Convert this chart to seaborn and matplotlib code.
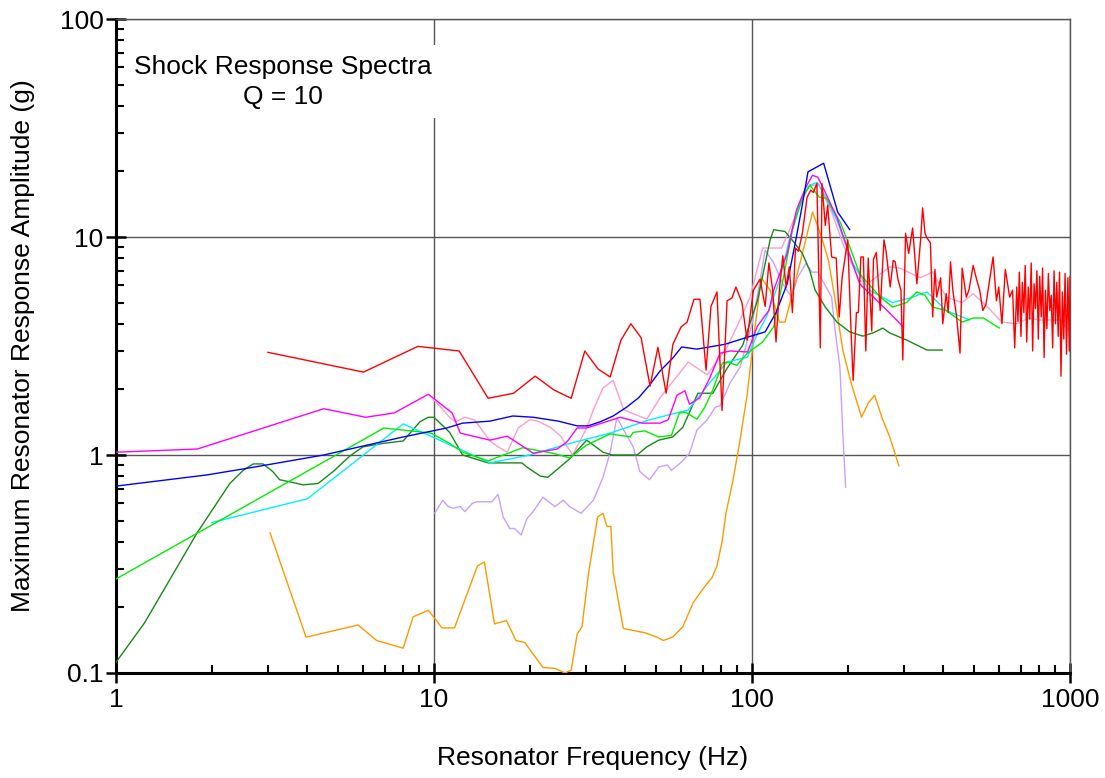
import matplotlib
matplotlib.use("Agg")
import matplotlib.pyplot as plt
import seaborn as sns
from matplotlib.ticker import LogLocator, NullFormatter, FixedLocator, FixedFormatter

# ---------------- data ----------------
red_f = [3.0, 6.0, 8.9, 12.0, 14.8, 17.8, 20.8, 23.8, 27.0, 29.8,
         32.8, 35.8, 38.7, 41.6, 44.8, 47.8, 50.6, 53.7, 56.4, 59.8,
         62.5, 65.7, 68.6, 71.7, 74.3, 77.6, 80.5, 83.5, 86.5, 89.0,
         93.0, 96.5, 101, 106, 110, 113, 116, 119, 122, 125,
         128, 131, 134, 137, 140, 144, 149, 153, 156, 160,
         164, 166, 170, 173, 178, 184, 188, 192, 200, 205,
         208, 213, 216, 220, 224, 228, 232, 238, 241, 246,
         253, 260, 264, 272, 278, 282, 288, 294, 298, 304,
         311, 320, 330, 339, 344, 350, 355, 364, 370, 376,
         381, 392, 398, 408, 414, 421, 428, 440, 451, 458,
         472, 481, 496, 509, 520, 532, 544, 559, 573, 587,
         597, 611, 626, 646, 660, 670, 680]
red_g = [2.96, 2.4, 3.15, 3.0, 1.82, 1.92, 2.3, 1.99, 1.82, 3.0,
         2.48, 2.28, 3.36, 4.0, 3.45, 2.07, 3.12, 1.92, 3.22, 3.86,
         4.07, 5.18, 5.18, 2.45, 4.8, 5.6, 1.6, 5.1, 5.25, 5.9,
         5.0, 3.36, 5.7, 6.4, 4.8, 7.6, 5.8, 3.3, 5.8, 8.2,
         5.9, 7.3, 4.5, 8.9, 8.6, 10.4, 15.2, 16.4, 16.0, 17.6,
         3.1, 17.6, 11.3, 14.0, 8.1, 8.0, 4.3, 6.5, 9.7, 3.6,
         2.2, 4.5, 4.5, 8.1, 8.1, 3.0, 8.0, 3.7, 7.9, 8.5,
         4.6, 9.7, 8.6, 5.9, 7.8, 7.7, 6.35, 5.7, 2.73, 10.4,
         8.4, 11.0, 6.1, 9.7, 13.6, 10.4, 9.9, 9.4, 4.3, 7.1,
         5.3, 6.5, 4.0, 5.5, 4.5, 7.7, 5.7, 4.3, 2.93, 7.2,
         5.3, 5.7, 7.4, 6.35, 5.7, 4.6, 4.9, 6.35, 8.1, 5.1,
         5.9, 4.0, 7.1, 5.3, 5.7, 3.1, 5.9]
red_tail_f = [686, 693, 701, 708, 716, 723, 731, 739, 747, 755,
              763, 771, 779, 787, 795, 803, 812, 820, 829, 837,
              846, 855, 864, 873, 882, 891, 900, 909, 918, 927,
              937, 946, 956, 965, 975, 985, 995, 1000]
red_tail_g = [4.1, 6.9, 3.5, 6.2, 4.5, 7.4, 3.3, 5.9, 4.2, 7.6,
              3.0, 6.1, 4.7, 7.0, 3.4, 6.6, 4.3, 7.2, 2.8, 5.7,
              3.8, 6.8, 4.6, 5.4, 3.1, 7.0, 4.0, 6.2, 3.5, 6.9,
              2.3, 5.6, 3.4, 6.8, 2.9, 6.5, 3.0, 6.6]

mag_f = [1.0, 1.8, 4.5, 6.1, 7.5, 9.6, 11.4, 12.1, 15.0, 17.0,
         20.5, 24.4, 26.2, 28.2, 30.2, 38.5, 45.1, 51.4, 54.5, 58.1,
         61.5, 63.6, 68.5, 73.6, 79.3, 85.3, 96.9, 104, 113, 117,
         129, 138, 147, 155, 161, 167, 185, 207, 218, 271, 299]
mag_g = [1.03, 1.065, 1.63, 1.49, 1.56, 1.90, 1.56, 1.26, 1.17, 1.22,
         1.02, 1.065, 1.15, 1.33, 1.33, 1.49, 1.40, 1.40, 1.45, 1.88,
         1.97, 1.71, 1.83, 2.25, 2.93, 3.0, 2.97, 3.9, 4.6, 5.7,
         8.4, 13.3, 16.7, 19.2, 18.8, 16.9, 12.3, 7.6, 6.1, 4.48, 3.87]

blue_f = [1.0, 1.93, 2.72, 4.5, 6.16, 8.0, 10.96, 12.3, 15.0, 17.7,
          20.5, 24.6, 28.2, 30.5, 33.3, 36.6, 40.4, 44.0, 47.6, 51.4,
          56.3, 60.1, 67.1, 82.2, 96.7, 110, 119, 129, 137, 143,
          150, 168, 186, 203]
blue_g = [0.72, 0.81, 0.88, 1.0, 1.11, 1.21, 1.33, 1.40, 1.43, 1.51,
          1.49, 1.43, 1.36, 1.36, 1.42, 1.51, 1.66, 1.83, 2.09, 2.43,
          2.78, 3.13, 3.06, 3.22, 3.47, 3.67, 4.5, 6.1, 9.5, 13.3,
          19.9, 21.8, 13.0, 10.8]

cyan_f = [2.0, 4.0, 6.0, 8.0, 15.0, 20.0, 26.7, 35.8, 47.6, 63.0,
          73.6, 83.5, 96.7, 104, 111, 122, 131, 141, 152, 160,
          166, 185, 207, 234, 277, 320, 355, 408, 484]
cyan_g = [0.49, 0.63, 1.0, 1.39, 0.92, 1.0, 1.13, 1.26, 1.45, 1.61,
          2.14, 2.67, 2.81, 3.6, 4.3, 6.3, 9.7, 14.3, 17.3, 17.8,
          16.4, 11.9, 7.6, 5.7, 5.0, 5.3, 5.6, 4.6, 4.16]

lime_f = [1.0, 6.96, 9.8, 11.2, 12.3, 14.8, 19.0, 23.6, 26.7, 30.2,
          35.8, 41.4, 42.3, 46.0, 50.9, 55.8, 59.1, 61.9, 67.1, 71.1,
          75.3, 80.7, 83.5, 89.6, 96.7, 108, 117, 125, 134, 144,
          152, 163, 171, 190, 203, 218, 253, 277, 306, 330,
          350, 370, 408, 458, 496, 534, 600]
lime_g = [0.27, 1.33, 1.26, 1.13, 1.03, 0.94, 1.08, 1.02, 0.97, 1.11,
          1.25, 1.21, 1.27, 1.29, 1.21, 1.23, 1.56, 1.57, 1.46, 1.66,
          1.99, 2.64, 2.67, 2.58, 2.93, 3.3, 3.87, 6.3, 10.8, 15.1,
          17.3, 15.2, 15.1, 11.6, 9.0, 6.8, 5.3, 4.77, 5.0, 5.6,
          5.4, 4.77, 4.6, 4.07, 4.25, 4.25, 3.82]

dkg_f = [1.0, 1.23, 1.80, 2.28, 2.51, 2.70, 2.90, 3.11, 3.27, 3.57,
         3.87, 4.32, 4.82, 5.44, 5.98, 6.9, 8.0, 9.03, 9.6, 10.0,
         11.2, 12.3, 14.8, 18.9, 19.6, 21.6, 22.8, 26.7, 30.2, 34.0,
         36.3, 43.5, 46.7, 50.9, 56.3, 60.6, 67.6, 75.3, 83.5, 93.5,
         104, 114, 117, 127, 136, 144, 152, 158, 170, 185,
         203, 223, 240, 258, 271, 306, 355, 397]
dkg_g = [0.112, 0.17, 0.44, 0.74, 0.85, 0.91, 0.91, 0.84, 0.77, 0.75,
         0.73, 0.74, 0.84, 0.99, 1.09, 1.13, 1.16, 1.42, 1.49, 1.49,
         1.27, 1.0, 0.92, 0.92, 0.88, 0.80, 0.79, 0.96, 1.17, 1.03,
         1.0, 1.0, 1.09, 1.17, 1.21, 1.34, 1.92, 1.92, 2.5, 3.19,
         5.1, 9.7, 10.8, 10.6, 9.4, 8.4, 7.0, 5.7, 4.77, 4.07,
         3.67, 3.51, 3.63, 3.82, 3.63, 3.37, 3.03, 3.03]

pink_f = [10.0, 11.2, 11.7, 12.5, 13.4, 15.0, 15.9, 17.0, 18.4, 20.0,
          21.2, 23.2, 24.9, 27.3, 30.2, 31.7, 34.0, 36.6, 39.5, 46.7,
          51.4, 63.0, 72.3, 83.5, 91.7, 98.6, 108, 124, 137, 150,
          162, 178, 195, 218, 234, 271, 292, 338, 370, 408,
          458, 496, 550, 611, 680, 742, 803, 930, 1000]
pink_g = [1.79, 1.49, 1.42, 1.49, 1.45, 1.16, 1.09, 1.03, 1.33, 1.45,
          1.43, 1.34, 1.23, 1.0, 1.33, 1.61, 2.03, 2.2, 1.61, 1.46,
          1.83, 2.67, 2.33, 3.13, 4.16, 5.3, 8.9, 8.9, 12.5, 17.0,
          17.5, 13.0, 9.0, 6.3, 6.2, 7.3, 7.2, 6.5, 6.9, 5.3,
          5.0, 5.5, 4.77, 4.07, 4.0, 4.25, 4.16, 4.16, 3.67]

lav_f = [10.05, 10.65, 11.1, 11.5, 12.1, 12.5, 13.2, 13.6, 15.2, 15.9,
         16.5, 17.3, 17.9, 18.8, 19.6, 20.5, 22.0, 24.0, 25.5, 26.7,
         29.0, 31.7, 34.0, 35.8, 37.6, 42.3, 44.4, 47.6, 50.9, 54.2,
         55.8, 60.1, 63.6, 67.1, 72.3, 76.7, 79.3, 85.3, 91.7, 100,
         106, 110, 117, 125, 133, 139, 148, 154, 161, 171,
         178, 182, 189, 193, 197]
lav_g = [0.54, 0.62, 0.58, 0.57, 0.58, 0.55, 0.60, 0.61, 0.61, 0.66,
         0.52, 0.46, 0.46, 0.43, 0.51, 0.55, 0.64, 0.58, 0.62, 0.58,
         0.54, 0.62, 0.79, 1.03, 1.48, 1.09, 0.84, 0.77, 0.88, 0.90,
         0.85, 0.93, 1.02, 1.30, 1.45, 1.66, 1.68, 2.14, 2.53, 4.0,
         6.3, 8.7, 7.6, 6.1, 5.3, 6.5, 7.6, 6.9, 6.9, 5.9,
         5.3, 3.87, 2.53, 1.26, 0.71]

org_f = [3.05, 3.96, 5.77, 6.6, 8.0, 8.6, 9.6, 10.6, 11.6, 13.7,
         14.4, 15.5, 16.9, 18.1, 19.3, 22.0, 24.0, 25.8, 27.0, 28.2,
         29.2, 30.6, 32.7, 34.0, 35.0, 36.0, 36.6, 39.4, 46.0, 50.3,
         52.6, 56.3, 60.6, 65.3, 70.4, 75.0, 77.6, 80.5, 82.8, 87.2,
         91.7, 96.7, 101, 107, 114, 122, 127, 134, 144, 155,
         164, 174, 182, 193, 205, 221, 232, 243, 256, 271, 290]
org_g = [0.44, 0.146, 0.166, 0.141, 0.13, 0.181, 0.194, 0.161, 0.161, 0.31,
         0.323, 0.168, 0.174, 0.141, 0.138, 0.106, 0.105, 0.1, 0.103, 0.151,
         0.163, 0.285, 0.52, 0.54, 0.47, 0.47, 0.29, 0.16, 0.153, 0.146,
         0.141, 0.146, 0.163, 0.21, 0.245, 0.275, 0.31, 0.40, 0.54, 0.77,
         1.17, 1.92, 3.36, 6.5, 5.7, 4.07, 4.07, 5.5, 8.4, 13.0,
         10.4, 7.8, 5.3, 3.03, 2.14, 1.49, 1.73, 1.88, 1.49, 1.21, 0.89]

x_ticks = [1, 10, 100, 1000]
x_tick_labels = ["1", "10", "100", "1000"]
y_ticks = [0.1, 1, 10, 100]
y_tick_labels = ["0.1", "1", "10", "100"]

title_text = "Shock Response Spectra\nQ = 10"
x_label = "Resonator Frequency (Hz)"
y_label = "Maximum Resonator Response Amplitude (g)"

# ---------------- figure ----------------
sns.set_theme(style="white")
plt.rcParams["font.family"] = ["Liberation Sans", "DejaVu Sans"]

W, H = 1105, 778
fig = plt.figure(figsize=(W / 100, H / 100), dpi=100)
ax = fig.add_axes([116 / W, 1 - 673 / H, (1070 - 116) / W, (673 - 19) / H])
ax.set_xscale("log")
ax.set_yscale("log")

series = [
    (lav_f, lav_g, "#c8a0ff"),
    (pink_f, pink_g, "#ff9ccc"),
    (org_f, org_g, "#ff9900"),
    (dkg_f, dkg_g, "#168a16"),
    (cyan_f, cyan_g, "#00f0ff"),
    (lime_f, lime_g, "#00ee00"),
    (mag_f, mag_g, "#ff00ff"),
    (blue_f, blue_g, "#0000ff"),
    (red_f + red_tail_f, red_g + red_tail_g, "#ff0000"),
]
for fx, gy, col in series:
    sns.lineplot(x=fx, y=gy, color=col, linewidth=1.0, estimator=None,
                 sort=False, legend=False, ax=ax, zorder=3)

ax.set_xlim(1, 1000)
ax.set_ylim(0.1, 100)

ax.xaxis.set_major_locator(FixedLocator(x_ticks))
ax.xaxis.set_major_formatter(FixedFormatter(x_tick_labels))
ax.yaxis.set_major_locator(FixedLocator(y_ticks))
ax.yaxis.set_major_formatter(FixedFormatter(y_tick_labels))
ax.xaxis.set_minor_locator(LogLocator(base=10, subs=range(2, 10), numticks=20))
ax.yaxis.set_minor_locator(LogLocator(base=10, subs=range(2, 10), numticks=20))
ax.xaxis.set_minor_formatter(NullFormatter())
ax.yaxis.set_minor_formatter(NullFormatter())

ax.grid(which="major", color="#555555", linewidth=1.0)
ax.grid(which="minor", visible=False)
ax.set_axisbelow(True)

ax.tick_params(which="major", direction="inout", length=14, width=1.8,
               labelsize=19, colors="black", pad=4,
               bottom=True, left=True, top=False, right=False)
ax.tick_params(which="minor", direction="in", length=6, width=1.5,
               colors="black", bottom=True, left=True, top=False, right=False)
ax.tick_params(axis="y", which="major", pad=2)

for s in ["left", "bottom"]:
    ax.spines[s].set_linewidth(2.2)
    ax.spines[s].set_color("black")
for s in ["top", "right"]:
    ax.spines[s].set_linewidth(1.0)
    ax.spines[s].set_color("#555555")

ax.set_xlabel(x_label, fontsize=19, labelpad=24, color="black")
ax.set_ylabel(y_label, fontsize=19, labelpad=18, color="black")

ax.text(0.175, 0.904, title_text, transform=ax.transAxes, ha="center",
        va="center", multialignment="center", fontsize=19, linespacing=1.3,
        color="black", zorder=5,
        bbox=dict(facecolor="white", edgecolor="none", pad=7))

fig.savefig("out.png", dpi=100)
